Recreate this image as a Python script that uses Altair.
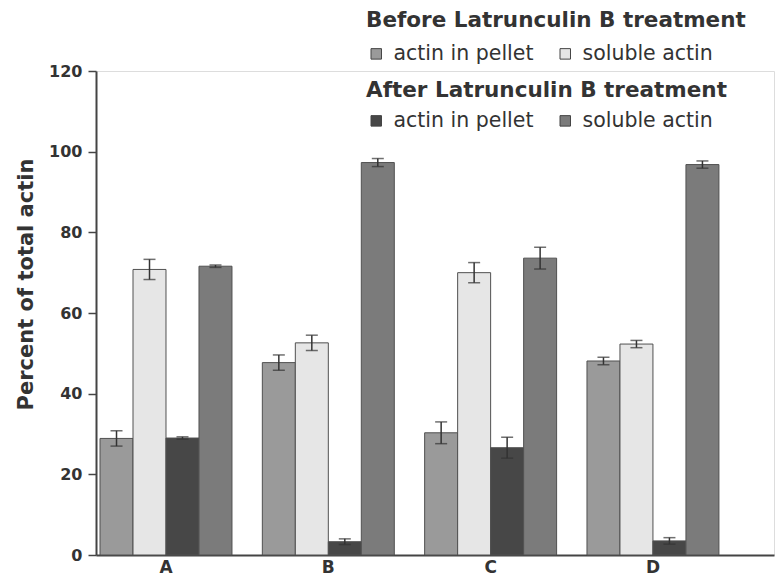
import altair as alt
import pandas as pd

groups = ["A", "B", "C", "D"]
series_keys = ["s1", "s2", "s3", "s4"]
phases = ["before", "before", "after", "after"]
kinds = ["actin in pellet", "soluble actin", "actin in pellet", "soluble actin"]

before_pellet = [28.9, 47.7, 30.3, 48.1]
before_pellet_err = [1.9, 1.9, 2.7, 0.9]
before_soluble = [70.8, 52.6, 70.0, 52.3]
before_soluble_err = [2.5, 1.9, 2.5, 0.9]
after_pellet = [29.0, 3.3, 26.6, 3.5]
after_pellet_err = [0.3, 0.7, 2.6, 0.8]
after_soluble = [71.6, 97.3, 73.6, 96.8]
after_soluble_err = [0.3, 1.0, 2.7, 0.9]

values = [before_pellet, before_soluble, after_pellet, after_soluble]
errors = [before_pellet_err, before_soluble_err, after_pellet_err, after_soluble_err]

rows = []
for s, (vals, errs) in enumerate(zip(values, errors)):
    for g, v, e in zip(groups, vals, errs):
        rows.append({"group": g, "series": series_keys[s], "phase": phases[s],
                     "kind": kinds[s], "value": v, "lo": v - e, "hi": v + e})
df = pd.DataFrame(rows)

FONT = "DejaVu Sans"
TXT = "#333333"
AX = "#444444"

x_enc = alt.X("group:N", title=None,
              scale=alt.Scale(paddingInner=0.187, paddingOuter=0.182, align=0.068),
              axis=alt.Axis(labelAngle=0, ticks=False, labelPadding=4, labelFont=FONT,
                            labelFontSize=17, labelFontWeight="bold", labelColor=TXT,
                            domainColor=AX, domainWidth=2))
xo_enc = alt.XOffset("series:N", scale=alt.Scale(domain=series_keys, paddingInner=0, paddingOuter=0))
y_enc = alt.Y("value:Q", scale=alt.Scale(domain=[0, 120], nice=False),
              axis=alt.Axis(values=[0, 20, 40, 60, 80, 100, 120], grid=False, tickSize=8,
                            tickColor=AX, tickWidth=1.5, domainColor=AX, domainWidth=2,
                            labelFont=FONT, labelFontSize=16, labelFontWeight="bold",
                            labelColor=TXT, labelPadding=6,
                            title="Percent of total actin", titleFont=FONT, titleFontSize=21,
                            titleFontWeight="bold", titleColor=TXT, titleX=-64, titleY=213,
                            titleBaseline="alphabetic"))

def legend(title, ly, tpad):
    return alt.Legend(title=title, orient="none", legendX=270, legendY=ly,
                      direction="horizontal", columns=2, symbolType="square",
                      symbolSize=110, symbolStrokeColor="#444444", symbolStrokeWidth=1,
                      labelFont=FONT, labelFontSize=20.5, labelColor=TXT, labelOffset=7,
                      labelLimit=400, titleFont=FONT, titleFontSize=21.5,
                      titleFontWeight="bold", titleColor=TXT, titleLimit=600,
                      titlePadding=tpad, columnPadding=21, padding=0)

base = alt.Chart(df)

before_bars = base.transform_filter(alt.datum.phase == "before").mark_bar(
    stroke="#505050", strokeWidth=1).encode(
    x=x_enc, xOffset=xo_enc, y=y_enc,
    fill=alt.Fill("kind:N", scale=alt.Scale(domain=["actin in pellet", "soluble actin"],
                                            range=["#9a9a9a", "#e6e6e6"]),
                  legend=legend("Before Latrunculin B treatment", -61, 12)))

after_bars = base.transform_filter(alt.datum.phase == "after").mark_bar(
    stroke="#505050", strokeWidth=1).encode(
    x=x_enc, xOffset=xo_enc, y=y_enc,
    fill=alt.Fill("kind:N", scale=alt.Scale(domain=["actin in pellet", "soluble actin"],
                                            range=["#474747", "#7b7b7b"]),
                  legend=legend("After Latrunculin B treatment", 9, 9)))

err_rule = base.mark_rule(color="#333333", strokeWidth=1.5).encode(
    x=x_enc, xOffset=xo_enc, y="lo:Q", y2="hi:Q")
cap_lo = base.mark_tick(color="#333333", size=12, thickness=1.5).encode(
    x=x_enc, xOffset=xo_enc, y="lo:Q")
cap_hi = base.mark_tick(color="#333333", size=12, thickness=1.5).encode(
    x=x_enc, xOffset=xo_enc, y="hi:Q")

chart = alt.layer(before_bars, after_bars, err_rule, cap_lo, cap_hi).resolve_scale(
    fill="independent"
).properties(
    width=678, height=484,
    autosize=alt.AutoSizeParams(type="none"),
    padding={"left": 88, "top": 63, "right": 1, "bottom": 23},
).configure_view(stroke=None).configure(background="white")

chart.save("out.html", embed_options={"renderer": "svg", "actions": False})
